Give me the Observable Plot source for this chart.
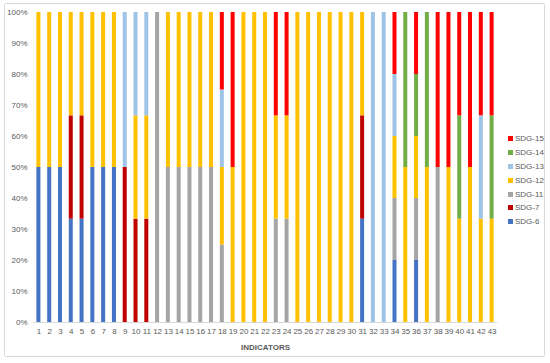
<!DOCTYPE html>
<html>
<head>
<meta charset="utf-8">
<script src="https://cdn.jsdelivr.net/npm/d3@7"></script>
<script src="https://cdn.jsdelivr.net/npm/@observablehq/plot@0.6"></script>
<style>
  html, body { margin: 0; padding: 0; background: #fff; }
  #wrap { position: relative; width: 550px; height: 363px; font-family: "Liberation Sans", Arial, sans-serif; }
  #border { position: absolute; left: 4px; top: 3px; width: 541px; height: 354px; border: 1px solid #d9d9d9; border-radius: 2px; box-sizing: border-box; pointer-events: none; }
  #legend { position: absolute; left: 508px; top: 133px; font-size: 8px; color: #595959; }
  #legend .item { height: 13.9px; line-height: 11px; white-space: nowrap; }
  #legend .sw { display: inline-block; width: 5px; height: 5px; margin-right: 2px; vertical-align: 0px; }
</style>
</head>
<body>
<div id="wrap"><div id="border"></div><div id="legend"></div></div>
<script>
const indicators = d3.range(1, 44);
const sdgs = ["SDG-6", "SDG-7", "SDG-11", "SDG-12", "SDG-13", "SDG-14", "SDG-15"];
const colors = ["#4472C4", "#C00000", "#A5A5A5", "#FFC000", "#9DC3E6", "#70AD47", "#FF0000"];

// share (%) of each SDG per indicator, indicators 1..43
const sdg6  = [50,50,50,33.3,33.3,50,50,50,0,0, 0,0,0,0,0,0,0,0,0,0, 0,0,0,0,0,0,0,0,0,0, 33.3,0,0,20,0,20,0,0,0,0, 0,0,0];
const sdg7  = [0,0,0,33.3,33.3,0,0,0,50,33.3, 33.3,0,0,0,0,0,0,0,0,0, 0,0,0,0,0,0,0,0,0,0, 33.3,0,0,0,0,0,0,0,0,0, 0,0,0];
const sdg11 = [0,0,0,0,0,0,0,0,0,0, 0,100,50,50,50,50,50,25,0,0, 0,0,33.3,33.3,0,0,0,0,0,0, 0,0,0,20,0,20,0,50,0,0, 0,0,0];
const sdg12 = [50,50,50,33.3,33.3,50,50,50,0,33.3, 33.3,0,50,50,50,50,50,25,50,100, 100,100,33.3,33.3,100,100,100,100,100,100, 33.3,0,0,20,50,20,50,0,50,33.3, 50,33.3,33.3];
const sdg13 = [0,0,0,0,0,0,0,0,50,33.3, 33.3,0,0,0,0,0,0,25,0,0, 0,0,0,0,0,0,0,0,0,0, 0,100,100,20,0,0,0,0,0,0, 0,33.3,0];
const sdg14 = [0,0,0,0,0,0,0,0,0,0, 0,0,0,0,0,0,0,0,0,0, 0,0,0,0,0,0,0,0,0,0, 0,0,0,0,50,20,50,0,0,33.3, 0,0,33.3];
const sdg15 = [0,0,0,0,0,0,0,0,0,0, 0,0,0,0,0,0,0,25,50,0, 0,0,33.3,33.3,0,0,0,0,0,0, 0,0,0,20,0,20,0,50,50,33.3, 50,33.3,33.3];
const series = [sdg6, sdg7, sdg11, sdg12, sdg13, sdg14, sdg15];
const yTicks = d3.range(0, 11).map(d => d / 10);

const data = [];
sdgs.forEach((s, j) => indicators.forEach((ind, i) => {
  if (series[j][i] > 0) data.push({indicator: ind, sdg: s, value: series[j][i]});
}));

const chart = Plot.plot({
  width: 550,
  height: 363,
  marginLeft: 33,
  marginRight: 53,
  marginTop: 12,
  marginBottom: 41,
  style: {fontFamily: "Liberation Sans, Arial, sans-serif", fontSize: "8px", color: "#595959", background: "transparent"},
  x: {type: "band", domain: indicators, padding: 0, label: null, tickSize: 0, tickPadding: 6},
  y: {domain: [0, 1], ticks: yTicks, tickFormat: d3.format(".0%"), tickSize: 0, tickPadding: 6, label: null},
  color: {domain: sdgs, range: colors},
  marks: [
    Plot.barY(data, Plot.stackY({x: "indicator", y: "value", z: "sdg", fill: "sdg", order: sdgs, offset: "normalize", insetLeft: 3.4, insetRight: 3.4})),
    Plot.ruleY([0], {stroke: "#d9d9d9"}),
    Plot.text(["INDICATORS"], {frameAnchor: "bottom", dy: 27, fontWeight: "bold", fontSize: 8, fill: "#595959"})
  ]
});
document.getElementById("wrap").prepend(chart);

const legend = document.getElementById("legend");
sdgs.slice().reverse().forEach(s => {
  const c = colors[sdgs.indexOf(s)];
  const div = document.createElement("div");
  div.className = "item";
  div.innerHTML = `<span class="sw" style="background:${c}"></span>${s}`;
  legend.appendChild(div);
});
</script>
</body>
</html>
